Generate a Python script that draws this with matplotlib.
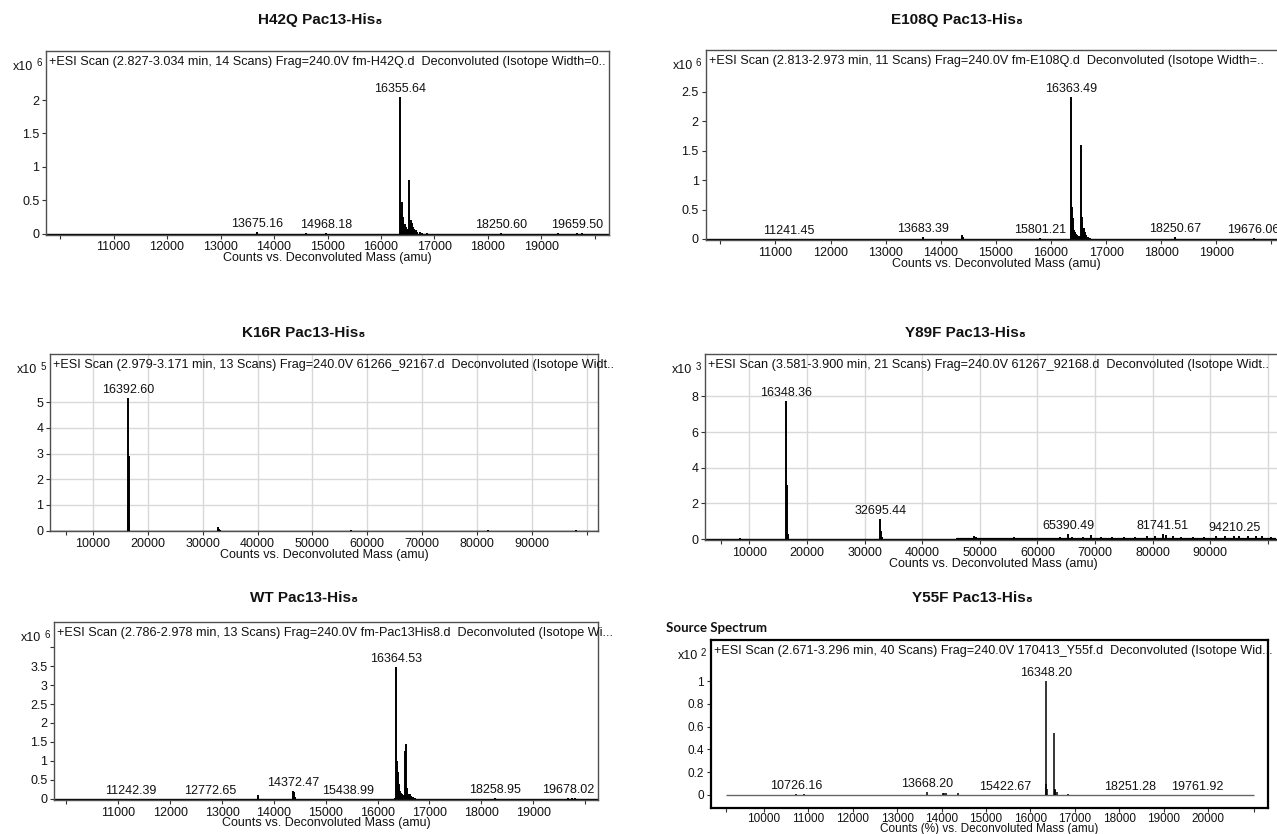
import matplotlib.pyplot as plt
import numpy as np

plt.rcParams['font.family'] = ['Liberation Sans', 'DejaVu Sans']

W, H = 1277, 834
fig = plt.figure(figsize=(W / 100, H / 100), dpi=100)


def px(v):
    # pixels -> points at 100 dpi
    return v * 0.72


def add_axes_px(left, top, right, bottom):
    return fig.add_axes([left / W, 1 - bottom / H, (right - left) / W, (bottom - top) / H])


# ---- H42Q (x10^6 counts) ----
h42q_mass = [13300, 13675.16, 14600, 14968.18, 15200, 15600,
             16355.64, 16372, 16395, 16405, 16420, 16440, 16460, 16480, 16500, 16515,
             16532, 16548, 16565, 16580, 16600, 16625, 16650, 16680, 16720, 16760, 16860,
             17300, 18250.60, 18700, 19300, 19659.50, 19750]
h42q_counts = [0.004, 0.03, 0.005, 0.008, 0.004, 0.004,
               2.05, 0.3, 0.48, 0.25, 0.2, 0.15, 0.1, 0.07, 0.05, 0.04,
               0.81, 0.15, 0.2, 0.16, 0.1, 0.07, 0.05, 0.03, 0.02, 0.01, 0.01,
               0.004, 0.012, 0.004, 0.005, 0.01, 0.006]
h42q_labels = [13675.16, 14968.18, 16355.64, 18250.60, 19659.50]

# ---- E108Q (x10^6 counts) ----
e108q_mass = [11241.45, 12300, 13683.39, 14380, 14400, 14700, 15300, 15801.21,
              16363.49, 16380, 16392, 16405, 16420, 16440, 16460, 16480, 16500, 16520,
              16545, 16558, 16570, 16585, 16600, 16615, 16640, 16670, 16710,
              17400, 18250.67, 18800, 19400, 19676.06, 19850]
e108q_counts = [0.005, 0.004, 0.03, 0.07, 0.03, 0.006, 0.005, 0.01,
                2.41, 0.55, 0.35, 0.2, 0.15, 0.12, 0.09, 0.07, 0.05, 0.04,
                1.59, 0.38, 0.22, 0.15, 0.18, 0.12, 0.06, 0.03, 0.015,
                0.004, 0.03, 0.005, 0.006, 0.01, 0.008]
e108q_labels = [11241.45, 13683.39, 15801.21, 16363.49, 18250.67, 19676.06]

# ---- K16R (x10^5 counts) ----
k16r_mass = [16392.60, 16410, 16570, 16590, 32780, 33000, 33200, 57000, 82000, 98000]
k16r_counts = [5.15, 1.0, 2.9, 0.3, 0.15, 0.05, 0.04, 0.02, 0.02, 0.02]
k16r_labels = [16392.60]

# ---- Y89F (x10^3 counts) ----
y89f_mass = [8300, 16348.36, 16530, 16700, 32695.44, 32880, 33050,
             46000, 49000, 49300, 50000, 52000, 54000, 56000, 58000, 60000, 62000, 64000,
             65390.49, 66000, 68000, 69300, 71000, 73000, 75000, 77000, 79000, 80500,
             81741.51, 82300, 83500, 85000, 87000, 89000, 91000, 92500, 94210.25,
             95000, 96500, 98000, 99000, 100500]
y89f_counts = [0.08, 7.75, 3.02, 0.3, 1.12, 0.45, 0.1,
               0.05, 0.2, 0.12, 0.08, 0.05, 0.07, 0.1, 0.08, 0.06, 0.08, 0.1,
               0.3, 0.1, 0.12, 0.22, 0.1, 0.12, 0.1, 0.12, 0.15, 0.15,
               0.3, 0.25, 0.15, 0.12, 0.1, 0.12, 0.15, 0.15, 0.2,
               0.18, 0.15, 0.18, 0.2, 0.1]
y89f_labels = [16348.36, 32695.44, 65390.49, 81741.51, 94210.25]
y89f_noise_range = [46000, 101500]

# ---- WT (x10^6 counts) ----
wt_mass = [11242.39, 12772.65, 13690, 13700, 14372.47, 14385, 14400, 15438.99,
           16330, 16364.53, 16378, 16392, 16405, 16420, 16440, 16460, 16480, 16500, 16520,
           16536, 16546, 16560, 16575, 16590, 16610, 16630, 16650, 16680, 16720,
           18258.95, 19678.02, 19750, 19800]
wt_counts = [0.005, 0.005, 0.1, 0.05, 0.2, 0.17, 0.05, 0.005,
             0.02, 3.48, 1.0, 0.7, 0.4, 0.28, 0.2, 0.15, 0.12, 0.1, 0.08,
             1.25, 1.45, 0.28, 0.2, 0.12, 0.1, 0.12, 0.08, 0.04, 0.02,
             0.02, 0.02, 0.015, 0.01]
wt_labels = [11242.39, 12772.65, 14372.47, 15438.99, 16364.53, 18258.95, 19678.02]

# ---- Y55F (x10^2 counts) ----
y55f_mass = [10726.16, 10900, 13668.20, 14030, 14060, 14100, 14380,
             16348.20, 16362, 16375, 16530, 16545, 16560, 16590, 16850,
             18251.28, 19761.92]
y55f_counts = [0.005, 0.005, 0.03, 0.015, 0.02, 0.015, 0.02,
               1.0, 0.1, 0.05, 0.54, 0.05, 0.04, 0.03, 0.01,
               0.002, 0.002]
y55f_labels = [10726.16, 13668.20, 15422.67, 16348.20, 18251.28, 19761.92]
y55f_range = [9150, 21030]

xlabel_counts = 'Counts vs. Deconvoluted Mass (amu)'
xlabel_pct = 'Counts (%) vs. Deconvoluted Mass (amu)'


def spectrum(ax, masses, counts, labels, xlim, ylim, xticks, xlabels, yticks, ylabels,
             header, power, xlabel, grid=False, lw=1.4, spine='#505050', spine_w=1.0,
             baseline=None, base_color='black', xlabel_off=24, tick_size=9):
    masses = np.asarray(masses)
    counts = np.asarray(counts)
    if baseline is None:
        baseline = xlim
    ax.hlines(0, baseline[0], baseline[1], color=base_color, lw=1.0, zorder=2)
    ax.vlines(masses, 0, counts, color='black', lw=lw, zorder=3)

    for m in labels:
        idx = np.where(np.isclose(masses, m))[0]
        top = counts[idx[0]] if len(idx) else 0.0
        ax.annotate(f'{m:.2f}', xy=(m, top), xytext=(0, px(2)), textcoords='offset points',
                    ha='center', va='bottom', fontsize=9, color='#111111', annotation_clip=False)

    ax.set_xlim(*xlim)
    ax.set_ylim(*ylim)
    ax.set_xticks(xticks, xlabels)
    ax.set_yticks(yticks, ylabels)
    ax.tick_params(direction='out', length=3, width=0.8, color='#333333', labelsize=tick_size,
                   pad=2, labelcolor='#111111')
    for s in ax.spines.values():
        s.set_color(spine)
        s.set_linewidth(spine_w)

    if grid:
        for x in xticks:
            if xlim[0] < x < xlim[1] and x % 10000 == 0:
                ax.axvline(x, color='#d9d9d9', lw=1.0, zorder=0)
        for y in yticks[1:]:
            ax.axhline(y, color='#d9d9d9', lw=1.0, zorder=0)

    ax.annotate(header, xy=(0, 1), xycoords='axes fraction', xytext=(px(3), px(-11)),
                textcoords='offset points', ha='left', va='center', fontsize=9.1,
                color='#111111', annotation_clip=False)
    ax.annotate('x10', xy=(0, 1), xycoords='axes fraction', xytext=(px(-13), px(-16)),
                textcoords='offset points', ha='right', va='center', fontsize=9,
                color='#111111', annotation_clip=False)
    ax.annotate(str(power), xy=(0, 1), xycoords='axes fraction', xytext=(px(-10), px(-13)),
                textcoords='offset points', ha='left', va='center', fontsize=7,
                color='#111111', annotation_clip=False)
    ax.annotate(xlabel, xy=(0.5, 0), xycoords='axes fraction', xytext=(0, px(-xlabel_off)),
                textcoords='offset points', ha='center', va='center', fontsize=tick_size,
                color='#111111', annotation_clip=False)


narrow_ticks = list(range(10000, 20001, 1000))
narrow_labels = [''] + [str(t) for t in narrow_ticks[1:-1]] + ['']
wide_ticks = [5000] + list(range(10000, 100001, 10000))
wide_labels = [''] + [str(t) for t in range(10000, 90001, 10000)] + ['']

# H42Q
ax1 = add_axes_px(46.3, 50.5, 609.3, 234.5)
spectrum(ax1, h42q_mass, h42q_counts, h42q_labels, (9743, 20268), (-0.01, 2.74),
         narrow_ticks, narrow_labels, [0, 0.5, 1, 1.5, 2], ['0', '0.5', '1', '1.5', '2'],
         '+ESI Scan (2.827-3.034 min, 14 Scans) Frag=240.0V fm-H42Q.d  Deconvoluted (Isotope Width=0..',
         6, xlabel_counts)

# E108Q
ax2 = add_axes_px(705.7, 50, 1286, 240)
spectrum(ax2, e108q_mass, e108q_counts, e108q_labels, (9735, 20265), (-0.017, 3.21),
         narrow_ticks, narrow_labels, [0, 0.5, 1, 1.5, 2, 2.5], ['0', '0.5', '1', '1.5', '2', '2.5'],
         '+ESI Scan (2.813-2.973 min, 11 Scans) Frag=240.0V fm-E108Q.d  Deconvoluted (Isotope Width=..',
         6, xlabel_counts)

# K16R
ax3 = add_axes_px(50.2, 354.3, 598.4, 531.3)
spectrum(ax3, k16r_mass, k16r_counts, k16r_labels, (2200, 102140), (-0.03, 6.87),
         wide_ticks, wide_labels, [0, 1, 2, 3, 4, 5], ['0', '1', '2', '3', '4', '5'],
         '+ESI Scan (2.979-3.171 min, 13 Scans) Frag=240.0V 61266_92167.d  Deconvoluted (Isotope Widt..',
         5, xlabel_counts, grid=True)

# Y89F
ax4 = add_axes_px(705.3, 354.3, 1281, 540)
spectrum(ax4, y89f_mass, y89f_counts, y89f_labels, (2340, 102290), (-0.05, 10.36),
         wide_ticks, wide_labels, [0, 2, 4, 6, 8], ['0', '2', '4', '6', '8'],
         '+ESI Scan (3.581-3.900 min, 21 Scans) Frag=240.0V 61267_92168.d  Deconvoluted (Isotope Widt..',
         3, xlabel_counts, grid=True)
# dense low-level noise band at high mass
ax4.hlines(0.03, y89f_noise_range[0], y89f_noise_range[1], color='black', lw=1.6, zorder=2)

# WT
ax5 = add_axes_px(54.3, 621.7, 598.4, 800)
spectrum(ax5, wt_mass, wt_counts, wt_labels, (9765, 20260), (-0.03, 4.67),
         narrow_ticks, narrow_labels, [0, 0.5, 1, 1.5, 2, 2.5, 3, 3.5, 4],
         ['0', '0.5', '1', '1.5', '2', '2.5', '3', '3.5', ''],
         '+ESI Scan (2.786-2.978 min, 13 Scans) Frag=240.0V fm-Pac13His8.d  Deconvoluted (Isotope Wi...',
         6, xlabel_counts, xlabel_off=23)

# Y55F
y55f_ticks = [9150] + list(range(10000, 20001, 1000)) + [21030]
y55f_ticklabels = [''] + [str(t) for t in range(10000, 20001, 1000)] + ['']
ax6 = add_axes_px(710.7, 640, 1267.7, 808.3)
spectrum(ax6, y55f_mass, y55f_counts, y55f_labels, (8800, 21345), (-0.117, 1.36),
         y55f_ticks, y55f_ticklabels, [0, 0.2, 0.4, 0.6, 0.8, 1],
         ['0', '0.2', '0.4', '0.6', '0.8', '1'],
         '+ESI Scan (2.671-3.296 min, 40 Scans) Frag=240.0V 170413_Y55f.d  Deconvoluted (Isotope Wid...',
         2, xlabel_pct, lw=1.1, spine='black', spine_w=1.6, baseline=y55f_range,
         base_color='#666666', xlabel_off=20.5, tick_size=8.5)
ax6.tick_params(axis='x', pad=0.5)
fig.text(666 / W, 1 - 628 / H, 'Source Spectrum', family=['Lato', 'DejaVu Sans'],
         fontweight='bold', fontsize=9.5, ha='left', va='center', color='#111111')

# panel titles
titles = ['H42Q Pac13-His₈', 'E108Q Pac13-His₈', 'K16R Pac13-His₈',
          'Y89F Pac13-His₈', 'WT Pac13-His₈', 'Y55F Pac13-His₈']
title_xy = [(320, 20), (957, 20), (304, 333), (965, 333), (304, 598), (972, 598)]
for t, (x, y) in zip(titles, title_xy):
    fig.text(x / W, 1 - y / H, t, ha='center', va='center', fontsize=11,
             fontweight='bold', color='#111111')

fig.savefig('out.png', dpi=100)
